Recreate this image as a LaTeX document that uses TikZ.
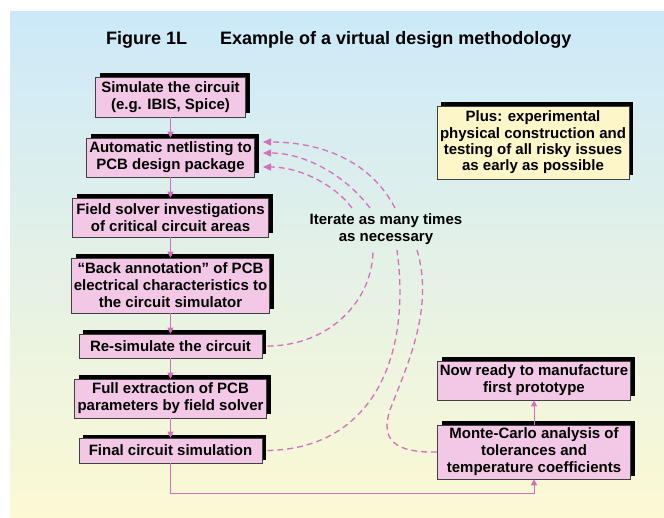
\documentclass[tikz,border=0pt]{standalone}
\usepackage{fontspec}
\setmainfont{Liberation Sans}
\usetikzlibrary{arrows.meta,shadows}
\definecolor{bgtop}{RGB}{204,233,249}
\definecolor{bgmid}{RGB}{232,244,232}
\definecolor{bgbot}{RGB}{252,249,212}
\definecolor{boxpink}{RGB}{242,200,230}
\definecolor{boxyel}{RGB}{253,246,200}
\definecolor{linkc}{RGB}{214,110,190}
\begin{document}
\begin{tikzpicture}[x=1pt,y=-1pt,
  box/.style={draw=black!75, line width=0.6pt, fill=boxpink, align=center, inner sep=0pt,
    font=\fontsize{15}{17}\selectfont\bfseries,
    general shadow={fill=black, shadow xshift=4pt, shadow yshift=3.5pt}},
  titlefont/.style={anchor=base west, inner sep=0pt, font=\fontsize{18}{20}\selectfont\bfseries},
  flow/.style={draw=linkc, line width=1pt, -{Triangle[length=6pt,width=6pt]}},
  iter/.style={draw=linkc, line width=1.3pt, dash pattern=on 6pt off 4pt},
  iterarrow/.style={iter, -{Triangle[length=8pt,width=7pt]}}
]
\useasboundingbox (0,0) rectangle (664,518);
\fill[white] (0,0) rectangle (664,518);
\shade[top color=bgtop, middle color=bgmid, bottom color=bgbot] (10,12) rectangle (664,518);

% title
\node[titlefont] (fig) at (106,45) {Figure 1L};
\node[titlefont] (ttl) at (220,45) {Example of a virtual design methodology};

% left column
\node[box, minimum width=150pt, minimum height=40pt] (B1) at (170.5,97) {Simulate the circuit\\(e.g. IBIS, Spice)};
\node[box, minimum width=168pt, minimum height=39pt] (B2) at (170.5,157.5) {Automatic netlisting to\\PCB design package};
\node[box, minimum width=196pt, minimum height=39pt] (B3) at (170.5,217.5) {Field solver investigations\\of critical circuit areas};
\node[box, minimum width=198pt, minimum height=55pt] (B4) at (170.5,285.5) {“Back annotation” of PCB\\electrical characteristics to\\the circuit simulator};
\node[box, minimum width=183pt, minimum height=24pt] (B5) at (170.5,346) {Re-simulate the circuit};
\node[box, minimum width=192pt, minimum height=39pt] (B6) at (170.5,398.5) {Full extraction of PCB\\parameters by field solver};
\node[box, minimum width=183pt, minimum height=25pt] (B7) at (170.5,450.5) {Final circuit simulation};

% right column
\node[box, fill=boxyel, minimum width=192pt, minimum height=73pt, font=\fontsize{15}{16.3}\selectfont\bfseries] (Y) at (533,142.5) {Plus: experimental\\physical construction and\\testing of all risky issues\\as early as possible};
\node[box, minimum width=193pt, minimum height=39pt] (B9) at (534,380.5) {Now ready to manufacture\\first prototype};
\node[box, minimum width=193pt, minimum height=54pt] (B10) at (534,452) {Monte-Carlo analysis of\\tolerances and\\temperature coefficients};

% label
\node[inner sep=0pt, align=center, font=\fontsize{15}{17}\selectfont\bfseries] (lbl) at (386,229) {Iterate as many times\\as necessary};

% flow connectors
\draw[flow] (B1.south) -- (B2.north);
\draw[flow] (B2.south) -- (B3.north);
\draw[flow] (B3.south) -- (B4.north);
\draw[flow] (B4.south) -- (B5.north);
\draw[flow] (B5.south) -- (B6.north);
\draw[flow] (B6.south) -- (B7.north);
\draw[flow] (B7.south) -- ++(0,30) -| (B10.south);
\draw[flow] (B10) -- (B9);

% iteration loops
\coordinate (gR1) at (373,250);
\coordinate (gR2) at (352,208);
\coordinate (gF1) at (397,250);
\coordinate (gF2) at (370,208);
\coordinate (gM1) at (417,250);
\coordinate (gM2) at (395,208);
\coordinate (mM) at (390,410);
\coordinate (tR) at (263,167);
\coordinate (tF) at (263,153);
\coordinate (tM) at (263,142);

\draw[iter] ([xshift=5pt]B5.east) .. controls (330,346) and (373,300) .. (gR1);
\draw[iterarrow] (gR2) .. controls (335,185) and (300,167) .. (tR);

\draw[iter] ([xshift=5pt]B7.east) .. controls (370,449) and (412,360) .. (gF1);
\draw[iterarrow] (gF2) .. controls (345,175) and (305,153) .. (tF);

\draw[iter] (B10.west) .. controls (395,453) and (380,440) .. (mM) .. controls (405,370) and (435,310) .. (gM1);
\draw[iterarrow] (gM2) .. controls (370,160) and (320,142) .. (tM);
\end{tikzpicture}
\end{document}
